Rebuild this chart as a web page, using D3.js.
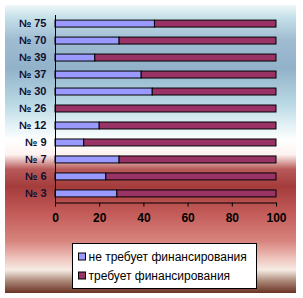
<!DOCTYPE html>
<html><head><meta charset="utf-8">
<script src="https://cdn.jsdelivr.net/npm/d3@7/dist/d3.min.js"></script>
<style>body{margin:0;background:#fff}svg{display:block}</style>
</head><body>
<script>
const categories = ["№ 75","№ 70","№ 39","№ 37","№ 30","№ 26","№ 12","№ 9","№ 7","№ 6","№ 3"];
const noFunding = [45, 29, 18, 39, 44, 0, 20, 13, 29, 23, 28];
const needsFunding = [55, 71, 82, 61, 56, 100, 80, 87, 71, 77, 72];
const seriesNames = ["не требует финансирования", "требует финансирования"];
const seriesColors = ["#9999ff", "#993366"];
const xTicks = [0, 20, 40, 60, 80, 100];

const W = 303, H = 298;
const svg = d3.select("body").append("svg").attr("width", W).attr("height", H);
const defs = svg.append("defs");
const g = defs.append("linearGradient").attr("id","bg").attr("x1",0).attr("y1",0).attr("x2",0).attr("y2",1);
[[0,"#eef8f8"],[0.04,"#c8e2ea"],[0.12,"#9fbcd2"],[0.22,"#92b2ca"],[0.34,"#b8d8e4"],[0.42,"#e4f2f6"],[0.47,"#ffffff"],[0.52,"#fdf2f0"],[0.57,"#b85a5a"],[0.63,"#a53c3c"],[0.72,"#c25a58"],[0.82,"#d8847e"],[0.88,"#eec4bc"],[0.92,"#f6ece4"],[0.96,"#a88474"],[1,"#6a3224"]]
  .forEach(([o,c]) => g.append("stop").attr("offset",o).attr("stop-color",c));
svg.append("rect").attr("x",5).attr("y",5).attr("width",291).attr("height",288).attr("fill","url(#bg)");

const x = d3.scaleLinear().domain([0,100]).range([55,276]);
const y = d3.scaleBand().domain(categories).range([15,202]).paddingInner(0.59).paddingOuter(0.3);

const stacked = categories.map((c,i) => ({c, a: noFunding[i], b: needsFunding[i]}));
const bars = svg.append("g");
bars.selectAll("rect.a").data(stacked).join("rect")
  .attr("x", d => x(0)).attr("y", d => y(d.c)).attr("width", d => x(d.a)-x(0)).attr("height", y.bandwidth())
  .attr("fill", seriesColors[0]).attr("stroke","#000").attr("stroke-width",1)
  .style("display", d => d.a > 0 ? null : "none");
bars.selectAll("rect.b").data(stacked).join("rect")
  .attr("x", d => x(d.a)).attr("y", d => y(d.c)).attr("width", d => x(d.a+d.b)-x(d.a)).attr("height", y.bandwidth())
  .attr("fill", seriesColors[1]).attr("stroke","#000").attr("stroke-width",1);

const xAxis = svg.append("g").attr("transform","translate(0,202.5)")
  .call(d3.axisBottom(x).tickValues(xTicks).tickSize(4).tickSizeOuter(0).tickPadding(7));
xAxis.select(".domain").attr("stroke","#000");
xAxis.selectAll("text").attr("font-family","Arial, 'Liberation Sans', sans-serif").attr("font-size",12).attr("font-weight","bold").attr("fill","#000");

const yAxis = svg.append("g").attr("transform","translate(55.5,0)")
  .call(d3.axisLeft(y).tickSize(0).tickPadding(9));
yAxis.select(".domain").attr("stroke","#000").attr("d","M0,15V202.5");
yAxis.selectAll("text").attr("font-family","Arial, 'Liberation Sans', sans-serif").attr("font-size",11).attr("font-weight","bold").attr("fill","#101030");

const lg = svg.append("g").attr("transform","translate(72.5,243.5)");
lg.append("rect").attr("width",184).attr("height",45).attr("fill","#fff").attr("stroke","#000");
seriesNames.forEach((n,i) => {
  const row = lg.append("g").attr("transform",`translate(6,${13 + i*19})`);
  row.append("rect").attr("x",0).attr("y",-3.5).attr("width",7).attr("height",7).attr("fill",seriesColors[i]).attr("stroke","#000");
  row.append("text").attr("x",10).attr("y",0).attr("dy","0.35em").text(n)
    .attr("font-family","Arial, 'Liberation Sans', sans-serif").attr("font-size",12).attr("fill","#000");
});
</script>
</body></html>
